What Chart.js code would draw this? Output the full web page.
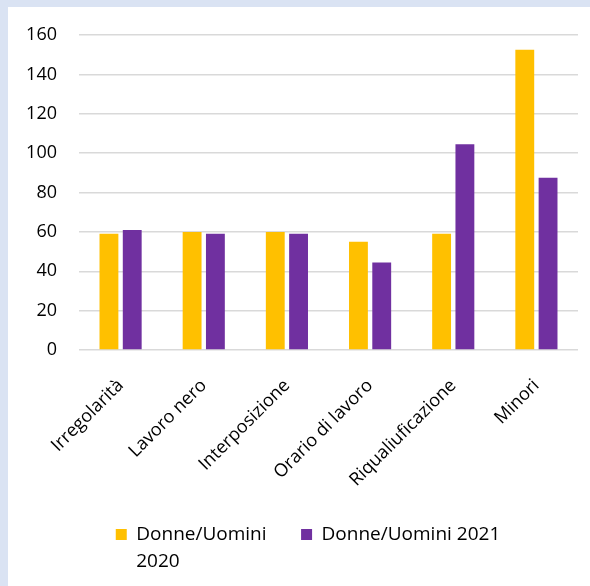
<!DOCTYPE html>
<html>
<head>
<meta charset="utf-8">
<script src="https://cdn.jsdelivr.net/npm/chart.js@4"></script>
<style>
  html, body { margin: 0; padding: 0; background: #dae3f3; }
  #wrap { position: absolute; left: 8px; top: 7px; width: 582px; height: 579px; background: #fff; }
</style>
</head>
<body>
<div id="wrap"><canvas id="chart" width="582" height="579"></canvas></div>
<script>
const categories = ['Irregolarità', 'Lavoro nero', 'Interposizione', 'Orario di lavoro', 'Riqualiuficazione', 'Minori'];
const label2020 = ['Donne/Uomini', '2020'];
const label2021 = 'Donne/Uomini 2021';
const values2020 = [59, 60, 60, 55, 59, 152.5];
const values2021 = [61, 59, 59, 44.5, 104.5, 87.5];
const yTicks = [0, 20, 40, 60, 80, 100, 120, 140, 160];

// wrapped legend label: measured by its first line plus the gap before the next item
label2020.toString = () => label2020[0] + '       ';

const FONT = 'Open Sans';
const ctx = document.getElementById('chart');

// legend clips to its own box, so give the wrapped second line some room
const legendRoom = {
  id: 'legendRoom',
  afterLayout(chart) {
    const lg = chart.legend;
    lg.bottom += 40;
    lg.height += 40;
    lg.left += 15;
    lg.right += 15;
  }
};

const chart = new Chart(ctx, {
  type: 'bar',
  data: {
    labels: categories,
    datasets: [{
      label: label2020,
      data: values2020,
      backgroundColor: '#ffc000',
      barPercentage: 0.81,
      categoryPercentage: 0.56
    }, {
      label: label2021,
      data: values2021,
      backgroundColor: '#7030a0',
      barPercentage: 0.81,
      categoryPercentage: 0.56
    }]
  },
  options: {
    responsive: false,
    animation: false,
    layout: { padding: { left: 0, right: 12, top: 28, bottom: 32 } },
    scales: {
      x: {
        grid: { display: false },
        border: { display: false },
        ticks: {
          color: '#000',
          font: { family: FONT, size: 18 },
          minRotation: 45,
          maxRotation: 45,
          padding: 17
        },
        afterFit: s => { s.height = 175; }
      },
      y: {
        min: 0,
        max: 160,
        border: { display: false },
        grid: { color: '#d9d9d9', lineWidth: 1.5, tickLength: 18, tickColor: 'transparent' },
        ticks: {
          color: '#000',
          font: { family: FONT, size: 18 },
          padding: 4,
          stepSize: 20,
          callback: v => yTicks.includes(v) ? v : ''
        },
        afterFit: s => { s.width = 71; }
      }
    },
    plugins: {
      tooltip: { enabled: false },
      legend: {
        position: 'bottom',
        labels: {
          color: '#000',
          font: { family: FONT, size: 19, lineHeight: 1.45 },
          boxWidth: 11,
          boxHeight: 11,
          padding: 0
        }
      }
    }
  },
  plugins: [legendRoom]
});
</script>
</body>
</html>
